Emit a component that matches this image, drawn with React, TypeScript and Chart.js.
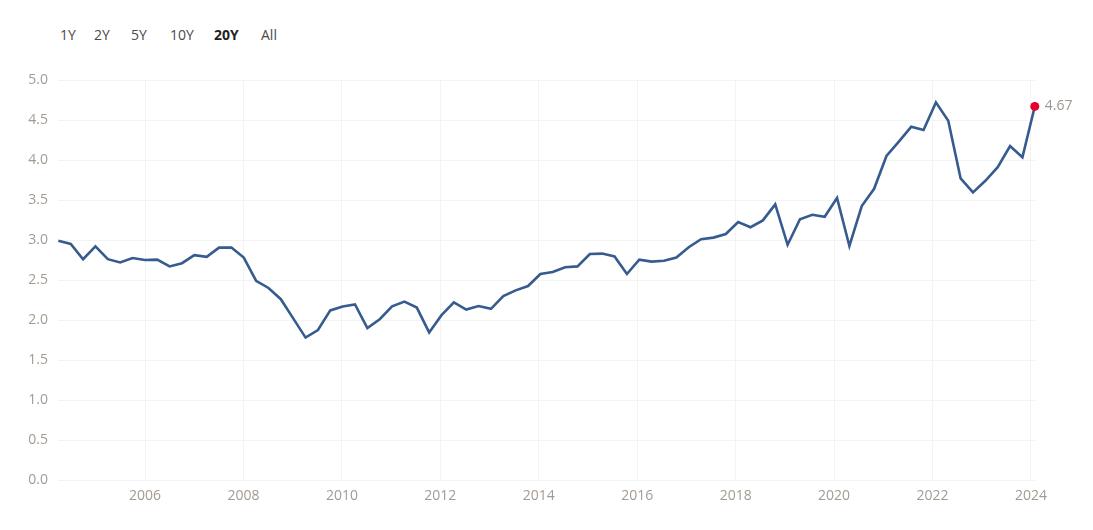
import React, { useEffect, useRef } from "react";
import { Chart, registerables } from "chart.js";

Chart.register(...registerables);

// Quarterly observations, 2004 Q2 .. 2024 Q1 (80 points)
const FIRST_X = 2004.24;
const STEP_X = 0.2511;
const VALUES: number[] = [
  2.99, 2.95, 2.76, 2.92, 2.76, 2.72, 2.775, 2.75, 2.755, 2.67,
  2.71, 2.81, 2.79, 2.905, 2.905, 2.78, 2.49, 2.40, 2.26, 2.02,
  1.78, 1.875, 2.12, 2.17, 2.195, 1.90, 2.01, 2.17, 2.23, 2.155,
  1.845, 2.06, 2.22, 2.13, 2.175, 2.14, 2.30, 2.37, 2.425, 2.575,
  2.60, 2.66, 2.67, 2.825, 2.83, 2.795, 2.575, 2.755, 2.73, 2.74,
  2.78, 2.91, 3.01, 3.03, 3.075, 3.225, 3.16, 3.245, 3.445, 2.94,
  3.26, 3.315, 3.29, 3.525, 2.925, 3.425, 3.64, 4.05, 4.23, 4.415,
  4.375, 4.72, 4.49, 3.77, 3.595, 3.74, 3.91, 4.175, 4.035, 4.67,
];
const TICK_YEARS: number[] = [2006, 2008, 2010, 2012, 2014, 2016, 2018, 2020, 2022, 2024];
const RANGES: string[] = ["1Y", "2Y", "5Y", "10Y", "20Y", "All"];
const RANGE_LEFT: number[] = [60, 94, 131, 170, 214, 261];
const ACTIVE_RANGE = "20Y";
const X_MIN = 2004.2324;
const X_MAX = 2024.1016;

const LINE_COLOR = "#365b8f";
const TICK_COLOR = "#a39b93";
const GRID_COLOR = "#f3f3f3";
const FONT = "'Open Sans', sans-serif";

const lastLabelPlugin = {
  id: "lastLabel",
  afterDatasetsDraw(chart: any) {
    const meta = chart.getDatasetMeta(0);
    const pt = meta.data[meta.data.length - 1];
    if (!pt) return;
    const ctx = chart.ctx;
    ctx.save();
    ctx.font = `14px ${FONT}`;
    ctx.fillStyle = "#9e968f";
    ctx.textAlign = "left";
    ctx.textBaseline = "middle";
    ctx.fillText(VALUES[VALUES.length - 1].toFixed(2), pt.x + 10, pt.y);
    ctx.restore();
  },
};

export default function App() {
  const canvasRef = useRef<HTMLCanvasElement | null>(null);

  useEffect(() => {
    const canvas = canvasRef.current;
    if (!canvas) return;
    const points = VALUES.map((v, i) => ({ x: FIRST_X + i * STEP_X, y: v }));
    const lastIdx = VALUES.length - 1;
    const chart = new Chart(canvas, {
      type: "line",
      data: {
        datasets: [
          {
            data: points,
            borderColor: LINE_COLOR,
            borderWidth: 2.6,
            tension: 0,
            fill: false,
            clip: false,
            pointRadius: (c: any) => (c.dataIndex === lastIdx ? 4.5 : 0),
            pointHoverRadius: 0,
            pointBackgroundColor: "#e6002b",
            pointBorderWidth: 0,
          },
        ],
      },
      options: {
        animation: false,
        responsive: false,
        devicePixelRatio: 1,
        layout: { padding: { top: 80, right: 57, left: 0, bottom: 0 } },
        plugins: {
          legend: { display: false },
          tooltip: { enabled: false },
        },
        scales: {
          x: {
            type: "linear",
            min: X_MIN,
            max: X_MAX,
            afterBuildTicks: (axis: any) => {
              axis.ticks = TICK_YEARS.map((v) => ({ value: v }));
            },
            afterFit: (axis: any) => {
              axis.height = 50;
            },
            grid: { color: GRID_COLOR, drawTicks: false, lineWidth: 1 },
            border: { display: false },
            ticks: {
              color: TICK_COLOR,
              font: { family: FONT, size: 14 },
              padding: 8,
              maxRotation: 0,
              autoSkip: false,
              callback: (v: any) => String(v),
            },
          },
          y: {
            min: 0,
            max: 5,
            afterFit: (axis: any) => {
              axis.width = 58;
            },
            grid: { color: GRID_COLOR, drawTicks: false, lineWidth: 1 },
            border: { display: false },
            ticks: {
              stepSize: 0.5,
              color: TICK_COLOR,
              font: { family: FONT, size: 14 },
              padding: 10,
              callback: (v: any) => Number(v).toFixed(1),
            },
          },
        },
      },
      plugins: [lastLabelPlugin],
    } as any);
    return () => chart.destroy();
  }, []);

  return (
    <div
      style={{
        position: "fixed",
        left: 0,
        top: 0,
        width: 1093,
        height: 530,
        background: "#ffffff",
        overflow: "hidden",
        fontFamily: FONT,
      }}
    >
      {RANGES.map((r, i) => (
        <span
          key={r}
          style={{
            position: "absolute",
            left: RANGE_LEFT[i],
            top: 25,
            fontSize: 14,
            lineHeight: "20px",
            color: r === ACTIVE_RANGE ? "#222222" : "#4a4a4a",
            fontWeight: r === ACTIVE_RANGE ? 700 : 400,
          }}
        >
          {r}
        </span>
      ))}
      <canvas
        ref={canvasRef}
        width={1093}
        height={530}
        style={{ position: "absolute", left: 0, top: 0, width: 1093, height: 530 }}
      />
    </div>
  );
}
